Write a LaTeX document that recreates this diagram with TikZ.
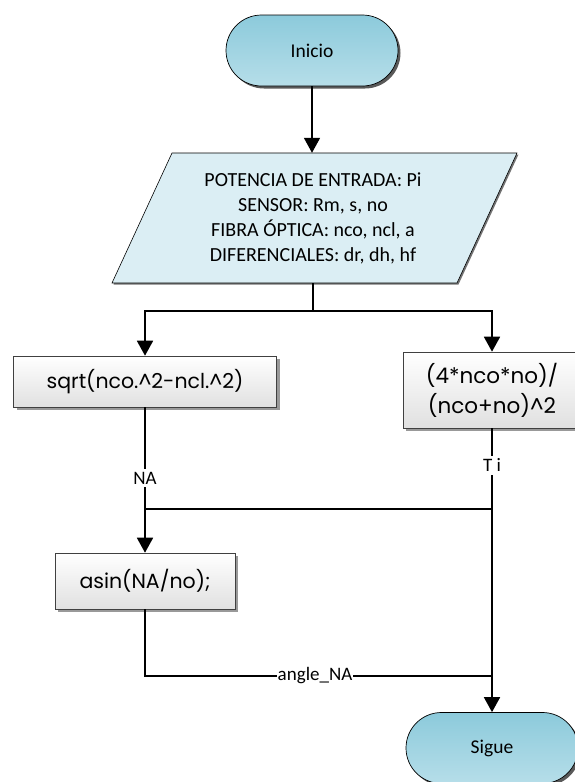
\documentclass[tikz,border=0pt]{standalone}
\usepackage{fontspec}
\setmainfont{Carlito}
\newfontfamily\boxfont{Poppins}
\usetikzlibrary{shapes.misc,shadows,arrows.meta}
\definecolor{termtop}{HTML}{8CCADB}
\definecolor{termbot}{HTML}{B6DEE9}
\definecolor{datafill}{HTML}{DBEEF4}
\begin{document}
\begin{tikzpicture}[x=1pt,y=-1pt,
  term/.style={rounded rectangle, draw=black, line width=0.7pt,
    minimum width=172pt, minimum height=71pt, inner sep=0pt,
    top color=termtop, bottom color=termbot,
    drop shadow={shadow xshift=2.5pt, shadow yshift=-2.5pt, fill=black!65, opacity=1},
    font=\fontsize{19.5}{23}\selectfont},
  proc/.style={rectangle, draw=black!75, line width=0.6pt, inner sep=0pt,
    top color=white, bottom color=black!12, align=center,
    drop shadow={shadow xshift=3pt, shadow yshift=-3pt, fill=black!40, opacity=1},
    font=\boxfont\fontsize{20.5}{30}\selectfont},
  conn/.style={line width=1.8pt, -{Triangle[length=15pt,width=16pt]}},
  wire/.style={line width=1.8pt},
  lab/.style={fill=white, inner xsep=1pt, inner ysep=3pt, font=\fontsize{19}{21}\selectfont}
]
\useasboundingbox (0,0) rectangle (574,782);

\node[term] (inicio) at (312,50.5) {Inicio};

% parallelogram (data)
\fill[black!55] (173.5,154.5) -- (518.5,154.5) -- (458.5,284.5) -- (113.5,284.5) -- cycle;
\path[draw=black, line width=0.6pt, fill=datafill] (172,153) -- (517,153) -- (457,283) -- (112,283) -- cycle;
\node[align=center, minimum width=300pt, minimum height=130pt, inner sep=0pt,
  font=\fontsize{20}{25}\selectfont] (data) at (313,218)
  {POTENCIA DE ENTRADA: Pi\\SENSOR: Rm, s, no\\FIBRA ÓPTICA: nco, ncl, a\\DIFERENCIALES: dr, dh, hf};

\node[proc, minimum width=263pt, minimum height=51pt] (sqrt) at (145,381.5) {sqrt(nco.\^{}2-ncl.\^{}2)};
\node[proc, minimum width=178pt, minimum height=76pt, font=\boxfont\fontsize{21.5}{30}\selectfont] (ti) at (492,390) {(4*nco*no)/\\(nco+no)\^{}2};
\node[proc, minimum width=180pt, minimum height=56pt] (asin) at (145,581) {asin(NA/no);};
\node[term] (sigue) at (492,748) {Sigue};

\coordinate (split) at (313,311);
\coordinate (j1) at (0,509);
\coordinate (j2) at (0,676);

\draw[conn] (inicio.south) -- (inicio.south |- data.north);
\draw[wire] (data.south) -- (split);
\draw[conn] (split) -| (sqrt.north);
\draw[conn] (split) -| (ti.north);
\draw[conn] (sqrt.south) -- (asin.north) node[lab, pos=0.486] {NA};
\draw[conn] (ti.south) -- (sigue.north) node[lab, pos=0.13] {T i};
\draw[wire] (sqrt.south |- j1) -- (ti.south |- j1);
\draw[wire] (asin.south) |- (ti.south |- j2) node[lab, pos=0.745] {angle\_NA};
\end{tikzpicture}
\end{document}
